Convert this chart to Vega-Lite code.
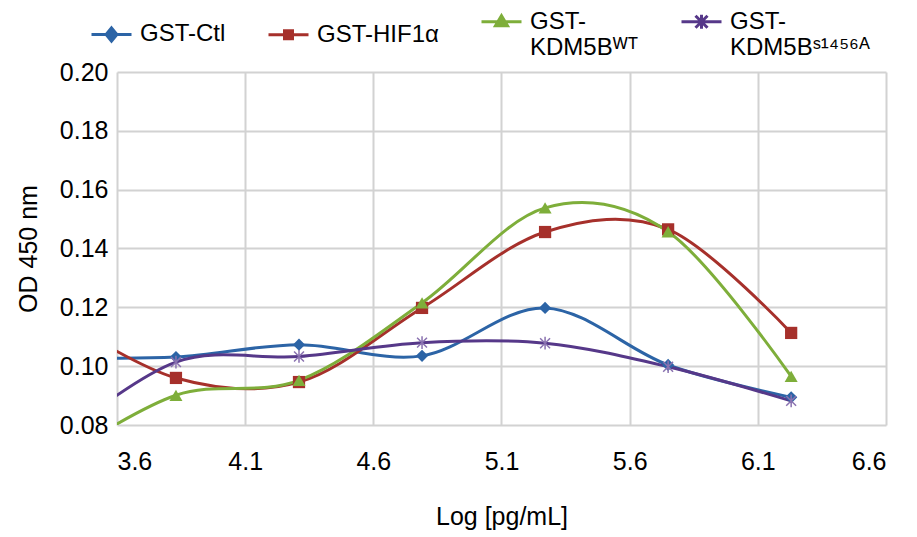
{
  "$schema": "https://vega.github.io/schema/vega-lite/v6.json",
  "width": 769,
  "height": 353,
  "autosize": {"type": "none"},
  "padding": {"left": 117, "top": 72, "right": 31, "bottom": 112},
  "background": "white",
  "config": {
    "font": "Liberation Sans",
    "view": {"stroke": null},
    "axis": {"grid": true, "gridColor": "#d2d2d2", "gridWidth": 2, "domain": false, "ticks": false, "labelColor": "#000", "titleColor": "#000", "labelFontSize": 25, "titleFontSize": 25, "titleFontWeight": "normal"}
  },
  "data": {"values": [
    {"x": 3.35, "y": 0.103, "s": "GST-Ctl"},
    {"x": 3.83, "y": 0.1031, "s": "GST-Ctl"},
    {"x": 4.31, "y": 0.1073, "s": "GST-Ctl"},
    {"x": 4.79, "y": 0.1035, "s": "GST-Ctl"},
    {"x": 5.27, "y": 0.1198, "s": "GST-Ctl"},
    {"x": 5.75, "y": 0.1004, "s": "GST-Ctl"},
    {"x": 6.23, "y": 0.0894, "s": "GST-Ctl"},
    {"x": 3.35, "y": 0.118, "s": "GST-HIF1α"},
    {"x": 3.83, "y": 0.096, "s": "GST-HIF1α"},
    {"x": 4.31, "y": 0.0946, "s": "GST-HIF1α"},
    {"x": 4.79, "y": 0.1198, "s": "GST-HIF1α"},
    {"x": 5.27, "y": 0.1456, "s": "GST-HIF1α"},
    {"x": 5.75, "y": 0.1465, "s": "GST-HIF1α"},
    {"x": 6.23, "y": 0.1113, "s": "GST-HIF1α"},
    {"x": 3.35, "y": 0.067, "s": "GST-\nKDM5Bᵂᵀ"},
    {"x": 3.83, "y": 0.0901, "s": "GST-\nKDM5Bᵂᵀ"},
    {"x": 4.31, "y": 0.0952, "s": "GST-\nKDM5Bᵂᵀ"},
    {"x": 4.79, "y": 0.1215, "s": "GST-\nKDM5Bᵂᵀ"},
    {"x": 5.27, "y": 0.1538, "s": "GST-\nKDM5Bᵂᵀ"},
    {"x": 5.75, "y": 0.1457, "s": "GST-\nKDM5Bᵂᵀ"},
    {"x": 6.23, "y": 0.0965, "s": "GST-\nKDM5Bᵂᵀ"},
    {"x": 3.35, "y": 0.074, "s": "GST-\nKDM5Bˢ¹⁴⁵⁶ᴬ"},
    {"x": 3.83, "y": 0.1014, "s": "GST-\nKDM5Bˢ¹⁴⁵⁶ᴬ"},
    {"x": 4.31, "y": 0.1033, "s": "GST-\nKDM5Bˢ¹⁴⁵⁶ᴬ"},
    {"x": 4.79, "y": 0.108, "s": "GST-\nKDM5Bˢ¹⁴⁵⁶ᴬ"},
    {"x": 5.27, "y": 0.1078, "s": "GST-\nKDM5Bˢ¹⁴⁵⁶ᴬ"},
    {"x": 5.75, "y": 0.0998, "s": "GST-\nKDM5Bˢ¹⁴⁵⁶ᴬ"},
    {"x": 6.23, "y": 0.0882, "s": "GST-\nKDM5Bˢ¹⁴⁵⁶ᴬ"}
  ]},
  "encoding": {
    "x": {"field": "x", "type": "quantitative", "scale": {"domain": [3.6, 6.6], "nice": false, "zero": false}, "axis": {"values": [3.6, 4.1, 4.6, 5.1, 5.6, 6.1, 6.6], "format": ".1f", "title": "Log [pg/mL]", "labelPadding": 24, "titlePadding": 30}},
    "y": {"field": "y", "type": "quantitative", "scale": {"domain": [0.08, 0.2], "nice": false, "zero": false}, "axis": {"values": [0.08, 0.1, 0.12, 0.14, 0.16, 0.18, 0.2], "format": ".2f", "title": "OD 450 nm", "labelPadding": 9, "titlePadding": 18}},
    "color": {"field": "s", "type": "nominal", "scale": {"domain": ["GST-Ctl", "GST-HIF1α", "GST-\nKDM5Bᵂᵀ", "GST-\nKDM5Bˢ¹⁴⁵⁶ᴬ"], "range": ["#2c64a6", "#a6302b", "#7eae3a", "#563889"]},
      "legend": {"title": null, "orient": "none", "direction": "horizontal", "legendX": -27, "legendY": -72, "padding": 0, "columnPadding": 36, "labelFontSize": 24, "labelColor": "#000", "labelOffset": 7, "symbolSize": 1600, "symbolStrokeWidth": 3, "labelBaseline": "top", "labelExpr": "split(datum.label, '\\n')",
        "symbolType": {"expr": "datum.value == 'GST-Ctl' ? 'M-1,0L1,0M0,-0.33L0.27,0L0,0.33L-0.27,0Z' : datum.value == 'GST-HIF1α' ? 'M-1,0L1,0M-0.2,-0.2L0.2,-0.2L0.2,0.2L-0.2,0.2Z' : indexof(datum.value, 'ᵂ') >= 0 ? 'M-1,0L1,0M0,-0.3L0.3,0.2L-0.3,0.2Z' : 'M-1,0L1,0M-0.3,-0.3L0.3,0.3M-0.3,0.3L0.3,-0.3M0,-0.35L0,0.35'"},
        "encode": {
          "labels": {"update": {"dy": {"value": -12}}},
          "symbols": {"update": {
            "fill": {"signal": "scale('color', datum.value)"},
            "stroke": {"signal": "scale('color', datum.value)"},
            "strokeWidth": {"value": 3}
          }}
        }
      }
    }
  },
  "layer": [
    {"mark": {"type": "line", "interpolate": "cardinal", "strokeWidth": 3, "clip": true}},
    {"transform": [{"filter": "datum.s == 'GST-Ctl'"}],
     "mark": {"type": "point", "shape": "diamond", "filled": true, "size": 150, "opacity": 1, "clip": true}},
    {"transform": [{"filter": "datum.s == 'GST-HIF1α'"}],
     "mark": {"type": "point", "shape": "square", "filled": true, "size": 150, "opacity": 1, "clip": true}},
    {"transform": [{"filter": "indexof(datum.s, 'ᵂ') >= 0"}],
     "mark": {"type": "point", "shape": "triangle-up", "filled": true, "size": 170, "opacity": 1, "clip": true}},
    {"transform": [{"filter": "indexof(datum.s, 'ˢ') >= 0"}],
     "mark": {"type": "point", "shape": "M-0.7,-0.7L0.7,0.7M-0.7,0.7L0.7,-0.7M0,-0.9L0,0.9", "filled": false, "size": 200, "strokeWidth": 1.5, "stroke": "#8a72b0", "opacity": 1, "clip": true}}
  ]
}
